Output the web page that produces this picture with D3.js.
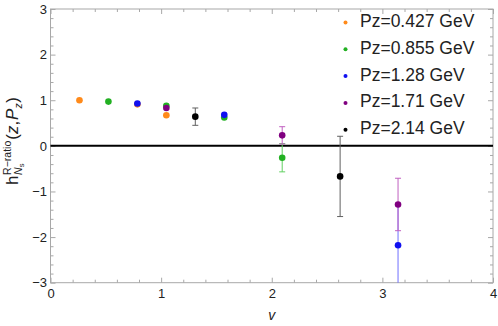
<!DOCTYPE html>
<html><head><meta charset="utf-8">
<script src="https://cdn.jsdelivr.net/npm/d3@7"></script>
<style>body{margin:0;background:#fff}svg{display:block}</style>
</head><body><svg id="c" width="498" height="326"></svg>
<script>
const seriesNames = ["Pz=0.427 GeV","Pz=0.855 GeV","Pz=1.28 GeV","Pz=1.71 GeV","Pz=2.14 GeV"];
const seriesColors = ["#ff8a1a","#22b022","#1010f0","#800080","#000000"];
const barColors = ["#ffa050","#60d060","#7070ff","#c060c0","#606060"];
const nuOrange = [0.2618, 0.7854, 1.0472];
const hOrange  = [1.00, 0.91, 0.67];
const eOrange  = [0.01, 0.01, 0.02];
const nuGreen = [0.5236, 1.0472, 1.5708, 2.0944];
const hGreen  = [0.97, 0.88, 0.62, -0.26];
const eGreen  = [0.01, 0.02, 0.03, 0.31];
const nuBlue = [0.7854, 1.5708, 3.1416];
const hBlue  = [0.93, 0.68, -2.18];
const eBlue  = [0.01, 0.03, 0.90];
const nuPurple = [1.0472, 2.0944, 3.1416];
const hPurple  = [0.83, 0.23, -1.285];
const ePurple  = [0.02, 0.19, 0.575];
const nuBlack = [1.309, 2.618];
const hBlack  = [0.64, -0.67];
const eBlack  = [0.19, 0.88];
const xTicks = [0,1,2,3,4];
const yTicks = [-3,-2,-1,0,1,2,3];

const series = [
  [nuOrange,hOrange,eOrange],[nuGreen,hGreen,eGreen],[nuBlue,hBlue,eBlue],
  [nuPurple,hPurple,ePurple],[nuBlack,hBlack,eBlack]
].map((s,i)=>({name:seriesNames[i],color:seriesColors[i],bar:barColors[i],
  pts:s[0].map((v,j)=>({x:v,y:s[1][j],e:s[2][j]}))}));

const svg = d3.select("#c");
const L=50.5,R=493,T=9,B=282.7;
const x = d3.scaleLinear().domain([0,4]).range([L,R]);
const y = d3.scaleLinear().domain([-3,3]).range([B,T]);
const font = "'Liberation Sans', Arial, sans-serif";

const minorX = d3.range(0,4.0001,0.2).filter(v=>Math.abs(v-Math.round(v))>1e-6);
const minorY = d3.range(-3,3.0001,0.2).filter(v=>Math.abs(v-Math.round(v))>1e-6);

function styleAxis(g){
  g.select(".domain").remove();
  g.selectAll(".tick line").attr("stroke","#a8a8a8");
  g.selectAll("text").attr("font-family",font).attr("font-size",13).attr("fill","#222");
}
// bottom
svg.append("g").attr("transform",`translate(0,${B})`)
  .call(d3.axisBottom(x).tickValues(xTicks).tickSize(-5).tickPadding(6).tickFormat(d3.format("d"))).call(styleAxis);
svg.append("g").attr("transform",`translate(0,${B})`)
  .call(d3.axisBottom(x).tickValues(minorX).tickSize(-3).tickFormat("")).call(styleAxis);
// top
svg.append("g").attr("transform",`translate(0,${T})`)
  .call(d3.axisTop(x).tickValues(xTicks).tickSize(-5).tickFormat("")).call(styleAxis);
svg.append("g").attr("transform",`translate(0,${T})`)
  .call(d3.axisTop(x).tickValues(minorX).tickSize(-3).tickFormat("")).call(styleAxis);
// left
svg.append("g").attr("transform",`translate(${L},0)`)
  .call(d3.axisLeft(y).tickValues(yTicks).tickSize(-5).tickPadding(3.5).tickFormat(d3.format("d"))).call(styleAxis);
svg.append("g").attr("transform",`translate(${L},0)`)
  .call(d3.axisLeft(y).tickValues(minorY).tickSize(-3).tickFormat("")).call(styleAxis);
// right
svg.append("g").attr("transform",`translate(${R},0)`)
  .call(d3.axisRight(y).tickValues(yTicks).tickSize(-5).tickFormat("")).call(styleAxis);
svg.append("g").attr("transform",`translate(${R},0)`)
  .call(d3.axisRight(y).tickValues(minorY).tickSize(-3).tickFormat("")).call(styleAxis);

svg.append("rect").attr("x",L).attr("y",T).attr("width",R-L).attr("height",B-T)
  .attr("fill","none").attr("stroke","#a8a8a8").attr("stroke-width",1);

// zero line
svg.append("line").attr("x1",L).attr("x2",R).attr("y1",y(0)).attr("y2",y(0))
  .attr("stroke","#000").attr("stroke-width",2);

svg.append("clipPath").attr("id","clip").append("rect")
  .attr("x",L).attr("y",T).attr("width",R-L).attr("height",B-T);
const plot = svg.append("g").attr("clip-path","url(#clip)");

series.forEach(s=>{
  const g = plot.append("g");
  s.pts.forEach(p=>{
    if(p.e>0.05){
      g.append("line").attr("x1",x(p.x)).attr("x2",x(p.x)).attr("y1",y(p.y+p.e)).attr("y2",y(p.y-p.e))
        .attr("stroke",s.bar).attr("stroke-width",1);
      [p.y+p.e,p.y-p.e].forEach(v=>g.append("line").attr("x1",x(p.x)-3).attr("x2",x(p.x)+3)
        .attr("y1",y(v)).attr("y2",y(v)).attr("stroke",s.bar).attr("stroke-width",1));
    }
  });
  g.selectAll("circle").data(s.pts).join("circle")
    .attr("cx",d=>x(d.x)).attr("cy",d=>y(d.y)).attr("r",3.3).attr("fill",s.color);
});

// legend
const lg = svg.append("g");
series.forEach((s,i)=>{
  const cy = 27 + i*26.8;
  lg.append("circle").attr("cx",345.5).attr("cy",cy-4.5).attr("r",2).attr("fill",s.color);
  lg.append("text").attr("x",360).attr("y",cy).attr("font-family",font).attr("font-size",17.5)
    .attr("fill","#222").text(s.name);
});

// x label
svg.append("text").attr("x",x(2)).attr("y",320).attr("text-anchor","middle")
  .attr("font-family",font).attr("font-size",14).attr("font-style","italic").attr("fill","#222").text("v");

// y label
const yl = svg.append("g").attr("transform","translate(18,141) rotate(-90)");
let cx = 0;
function piece(t,size,dy,italic,advance=true){
  const el = yl.append("text").attr("x",cx).attr("y",dy).attr("font-family",font)
    .attr("font-size",size).attr("fill","#222").attr("font-style",italic?"italic":"normal").text(t);
  const w = el.node().getComputedTextLength();
  if(advance) cx += w;
  return w;
}
piece("h",17,0,false);
const sx = cx + 0.5;
cx = sx; const wsup = piece("R−ratio",10.5,-7.5,false);
cx = sx; const wN = piece("N",10.5,3.5,true); const ws = piece("s",7.5,5.5,false);
cx = sx + Math.max(wsup, wN+ws) + 1;
piece("(",17,0,false); piece("z",17,0,true); piece(",",17,0,false); cx+=1;
piece("P",17,0,true); piece("z",10.5,4,true); cx+=0.5; piece(")",17,0,false);
yl.selectAll("text").attr("transform",`translate(${-cx/2},0)`);
</script></body></html>
